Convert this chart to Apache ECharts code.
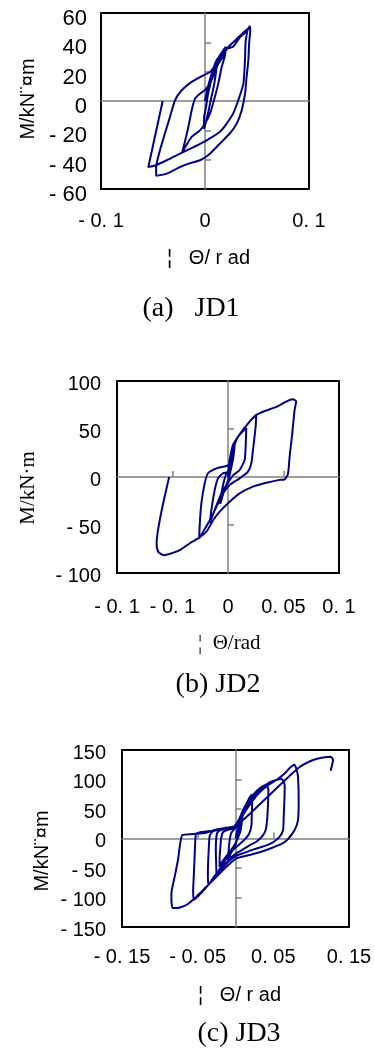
<!DOCTYPE html>
<html>
<head>
<meta charset="utf-8">
<script src="https://cdn.jsdelivr.net/npm/echarts@6/dist/echarts.min.js"></script>
<style>
  html, body { margin: 0; padding: 0; background: #fff; }
  #chart { width: 375px; height: 1052px; }
</style>
</head>
<body>
<div id="chart"></div>
<script>
// hysteresis curves, [rotation (rad), moment (kN·m)] in drawing order
const jd1Curve = [
  [0, 0], [0.003, 10], [0.007, 20], [0.010, 26], [0.012, 29],
  [0.011, 22], [0.009, 12], [0.006, 2], [0.003, -8], [0.001, -14], [-0.001, -19],
  [-0.001, -12], [0.001, -4], [0.003, 5], [0.006, 14], [0.009, 22], [0.012, 28], [0.015, 32], [0.018, 35], [0.020, 37],
  [0.0192, 31], [0.016, 23], [0.0128, 12], [0.0096, 3], [0.0048, -8.6], [0, -15.4], [-0.0048, -20], [-0.0128, -24.5], [-0.019, -31.4], [-0.022, -35.5],
  [-0.019, -26.8], [-0.016, -17.7], [-0.0128, -6.3], [-0.0096, 1.6], [-0.0048, 5], [0, 7.5], [0.0048, 11.9], [0.0096, 19.8], [0.0128, 25.5], [0.0176, 30.5], [0.021, 35.5], [0.027, 37], [0.0337, 43.6], [0.040, 47.5], [0.043, 51],
  [0.0435, 48], [0.0425, 40], [0.0417, 27.8], [0.040, 16.4], [0.0385, 5], [0.0353, -6.3], [0.0305, -15.4], [0.024, -22], [0.0144, -29], [0.0048, -35.9], [-0.0048, -40.4], [-0.015, -42.5], [-0.024, -45], [-0.0368, -49.5], [-0.047, -51],
  [-0.047, -45], [-0.0433, -33.6], [-0.0385, -22], [-0.0337, -10.9], [-0.0288, 0.5], [-0.0224, 7.3], [-0.0128, 13], [-0.0016, 17.5], [0.005, 20], [0.0112, 25.5], [0.016, 31], [0.0208, 35.7], [0.030, 42], [0.036, 46], [0.041, 49],
  [0.039, 40], [0.0385, 29], [0.0369, 11.8], [0.032, 0.5], [0.027, -8.6], [0.0208, -15.4], [0.0144, -21], [0.0016, -26.8], [-0.011, -31.4], [-0.024, -35.9], [-0.0368, -40.4], [-0.048, -44], [-0.0545, -45],
  [-0.0407, 0]
];

const jd2Curve = [
  [0, 0], [0.002, 12], [0.004, 25], [0.006, 33],
  [0.005, 22], [0.003, 10], [0.001, 0], [-0.002, -10], [-0.005, -20], [-0.007, -28],
  [-0.006, -18], [-0.004, -6], [-0.002, 2], [0, 6], [0.002, 15], [0.004, 28], [0.008, 40], [0.012, 46], [0.0165, 51],
  [0.016, 35], [0.015, 17.7], [0.0105, 7.3], [0.0048, 2], [0, -6], [-0.006, -17], [-0.012, -34.4], [-0.0164, -48],
  [-0.015, -34.4], [-0.012, -13.6], [-0.009, -1.4], [-0.0045, 3.9], [0, 5.5], [0.0015, 17.7], [0.0045, 33.4], [0.009, 42], [0.0135, 49], [0.0195, 57.7], [0.0255, 64.7],
  [0.0249, 52.5], [0.0225, 28], [0.021, 14.3], [0.018, 5.5], [0.0105, -1.4], [0.0015, -8.3], [-0.0044, -17], [-0.0104, -31], [-0.0164, -45], [-0.0224, -57], [-0.026, -64],
  [-0.0254, -48], [-0.024, -27.5], [-0.021, -6.6], [-0.018, 3.9], [-0.0104, 9], [-0.0015, 11.5], [0.0015, 14], [0.0045, 28], [0.0075, 38.6], [0.0135, 49], [0.0195, 57.7], [0.0255, 64.7], [0.0315, 68], [0.0435, 73], [0.0525, 78.6], [0.0585, 81],
  [0.0614, 78.6], [0.060, 70], [0.0579, 45.6], [0.0555, 21], [0.054, 3], [0.051, -2.4], [0.0465, -3], [0.0345, -6], [0.0225, -10], [0.0105, -17], [0.0015, -25.7], [-0.0075, -36], [-0.0134, -45], [-0.0194, -57], [-0.027, -64], [-0.0344, -69], [-0.043, -76], [-0.052, -80], [-0.058, -81.4], [-0.0628, -78], [-0.0643, -69],
  [-0.053, 0]
];

const jd3Curve = [
  [0, 0], [0.003, 18], [0.006, 35],
  [0.005, 20], [0.003, 5], [0, -10], [-0.005, -22], [-0.010, -36],
  [-0.009, -20], [-0.008, -5], [-0.006, 8], [-0.003, 14], [0, 18], [0.004, 30], [0.008, 42], [0.010, 48],
  [0.009, 35], [0.007, 15], [0.004, 3], [0, -8], [-0.005, -18], [-0.012, -30], [-0.018, -40], [-0.021, -48],
  [-0.021, -35], [-0.020, -15], [-0.019, 0], [-0.017, 10], [-0.012, 14], [-0.005, 16], [0.001, 20], [0.006, 35], [0.011, 50], [0.016, 63], [0.021, 74],
  [0.022, 62], [0.0215, 40], [0.021, 22], [0.018, 8], [0.012, -2], [0.005, -10], [-0.002, -18], [-0.010, -30], [-0.017, -44], [-0.022, -54], [-0.025, -62],
  [-0.0255, -45], [-0.026, -20], [-0.0255, 0], [-0.024, 10], [-0.018, 15], [-0.010, 17], [-0.002, 19], [0.004, 30], [0.010, 48], [0.016, 62], [0.024, 75], [0.032, 85], [0.041, 91],
  [0.0435, 82], [0.043, 60], [0.042, 35], [0.040, 15], [0.036, 5], [0.028, -5], [0.018, -12], [0.008, -20], [0, -26], [-0.008, -35], [-0.018, -50], [-0.028, -64], [-0.036, -79],
  [-0.0365, -60], [-0.036, -35], [-0.035, -10], [-0.034, 5], [-0.030, 12], [-0.020, 15], [-0.010, 17], [-0.002, 20], [0.006, 35], [0.015, 55], [0.025, 72], [0.035, 85], [0.045, 95], [0.052, 98.5], [0.061, 101],
  [0.065, 90], [0.065, 82], [0.0637, 37], [0.0628, 14], [0.0584, 3], [0.050, -6], [0.040, -12], [0.025, -18], [0.010, -25], [0, -30], [-0.010, -40], [-0.022, -57], [-0.035, -77], [-0.045, -92], [-0.055, -104],
  [-0.056, -90], [-0.055, -60], [-0.054, -30], [-0.053, 0], [-0.052, 8], [-0.045, 11], [-0.030, 13], [-0.015, 16], [-0.003, 19], [0.005, 30], [0.015, 50], [0.025, 68], [0.035, 82], [0.045, 92], [0.055, 100], [0.065, 110], [0.072, 120], [0.078, 125],
  [0.081, 115], [0.0826, 105], [0.0835, 65], [0.0826, 31], [0.0782, 14.4], [0.070, 0], [0.0628, -8], [0.0408, -19.5], [0.0188, -28], [0.0012, -33.6], [-0.012, -48], [-0.0252, -65], [-0.0385, -81.7], [-0.0517, -98.6], [-0.065, -112.7], [-0.078, -118], [-0.083, -118],
  [-0.0847, -105], [-0.0847, -93], [-0.0804, -65], [-0.076, -36], [-0.0737, -14], [-0.0702, 6], [-0.056, 7.6], [-0.0385, 9.9], [-0.0252, 15.5], [-0.0077, 19], [0.003, 23],
  [0.0826, 119], [0.1025, 133], [0.118, 137.6], [0.1258, 138.7], [0.129, 133], [0.1276, 124.6], [0.1258, 115]
];

// tick labels, from min to max
const xTicksA = ['- 0. 1', '0', '0. 1'];
const yTicksA = ['- 60', '- 40', '- 20', '0', '20', '40', '60'];
const xTicksB = ['- 0. 1', '- 0. 1', '0', '0. 05', '0. 1'];
const yTicksB = ['- 100', '- 50', '0', '50', '100'];
const xTicksC = ['- 0. 15', '- 0. 05', '0. 05', '0. 15'];
const yTicksC = ['- 150', '- 100', '- 50', '0', '50', '100', '150'];

// small ticks on the zero lines
const zeroTicksXA = [];
const zeroTicksYA = [-40, -20, 20, 40];
const zeroTicksXB = [-0.05, 0.05];
const zeroTicksYB = [-50, 50];
const zeroTicksXC = [-0.05, 0.05];
const zeroTicksYC = [-100, -50, 50, 100];

const LINE_COLOR = '#00008b';
const ZERO_COLOR = '#808080';
const SANS = '"Liberation Sans", Arial, sans-serif';
const SERIF = '"Liberation Serif", "Times New Roman", serif';

const panels = [
  {
    curve: jd1Curve, rect: {left: 101, top: 13, width: 208, height: 176},
    x: [-0.1, 0.1, 0.1], y: [-60, 60, 20],
    xTicks: xTicksA, yTicks: yTicksA, zx: zeroTicksXA, zy: zeroTicksYA,
    xMargin: 22, yMargin: 14, yShift: 6, yFont: 22
  },
  {
    curve: jd2Curve, rect: {left: 117, top: 381, width: 222, height: 192},
    x: [-0.1, 0.1, 0.05], y: [-100, 100, 50],
    xTicks: xTicksB, yTicks: yTicksB, zx: zeroTicksXB, zy: zeroTicksYB,
    xMargin: 24, yMargin: 16, yShift: 3, yFont: 20
  },
  {
    curve: jd3Curve, rect: {left: 122, top: 750, width: 227, height: 177},
    x: [-0.15, 0.15, 0.1], y: [-150, 150, 50],
    xTicks: xTicksC, yTicks: yTicksC, zx: zeroTicksXC, zy: zeroTicksYC,
    xMargin: 20, yMargin: 16, yShift: 3, yFont: 20
  }
];

let grids = [], xAxes = [], yAxes = [], series = [];

panels.forEach(function (p, i) {
  grids.push(Object.assign({
    show: true, borderColor: '#000', borderWidth: 2,
    backgroundColor: 'transparent', outerBoundsMode: 'none', containLabel: false
  }, p.rect));

  // axis carrying the labels, sits on the box edge
  xAxes.push({
    type: 'value', gridIndex: i, position: 'bottom',
    min: p.x[0], max: p.x[1], interval: p.x[2],
    axisLine: {show: false, onZero: false}, axisTick: {show: false}, splitLine: {show: false},
    axisLabel: {
      color: '#000', fontSize: 20, fontFamily: SANS, margin: p.xMargin,
      showMinLabel: true, showMaxLabel: true,
      formatter: function (v, k) { return p.xTicks[k]; }
    }
  });
  // zero line with its small ticks
  xAxes.push({
    type: 'value', gridIndex: i, position: 'bottom',
    min: p.x[0], max: p.x[1],
    axisLine: {show: true, onZero: true, onZeroAxisIndex: 2 * i, lineStyle: {color: ZERO_COLOR, width: 1.5}},
    axisTick: {show: p.zx.length > 0, inside: true, length: 6, customValues: p.zx, lineStyle: {color: ZERO_COLOR, width: 1.5}},
    axisLabel: {show: false}, splitLine: {show: false}
  });

  // labels sit a little below their ticks in the original
  yAxes.push({
    type: 'value', gridIndex: i, position: 'left',
    min: p.y[0], max: p.y[1], interval: p.y[2],
    axisLine: {show: false, onZero: false}, axisTick: {show: false}, splitLine: {show: false},
    axisLabel: {
      color: '#000', fontSize: p.yFont, fontFamily: SANS, margin: p.yMargin,
      verticalAlign: 'top', lineHeight: p.yShift * 2,
      showMinLabel: true, showMaxLabel: true,
      formatter: function (v, k) { return p.yTicks[k]; }
    }
  });
  yAxes.push({
    type: 'value', gridIndex: i, position: 'left',
    min: p.y[0], max: p.y[1],
    axisLine: {show: true, onZero: true, onZeroAxisIndex: 2 * i, lineStyle: {color: ZERO_COLOR, width: 1.5}},
    axisTick: {show: true, inside: true, length: 6, customValues: p.zy, lineStyle: {color: ZERO_COLOR, width: 1.5}},
    axisLabel: {show: false}, splitLine: {show: false}
  });

  series.push({
    type: 'line', xAxisIndex: 2 * i, yAxisIndex: 2 * i,
    data: p.curve, symbol: 'none', smooth: 0.2,
    lineStyle: {color: LINE_COLOR, width: 2}
  });
});

function label(text, x, y, font, size, rotate, align) {
  return {
    type: 'text', x: x, y: y, rotation: rotate || 0, z: 10,
    style: {
      text: text, fill: '#000', fontFamily: font, fontSize: size,
      align: align || 'center', verticalAlign: 'middle'
    }
  };
}

let chart = echarts.init(document.getElementById('chart'), null, {renderer: 'canvas'});
chart.setOption({
  animation: false,
  backgroundColor: '#fff',
  grid: grids,
  xAxis: xAxes,
  yAxis: yAxes,
  series: series,
  graphic: [
    label('M/kN¨¤m', 28, 99, SANS, 20, Math.PI / 2),
    label('¦   Θ/ r ad', 167, 258, SANS, 20, 0, 'left'),
    label('(a)   JD1', 191, 309, SERIF, 28),

    label('M/kN·m', 28, 488, SERIF, 21, Math.PI / 2),
    label('¦  Θ/rad', 198, 643, SERIF, 21, 0, 'left'),
    label('(b) JD2', 218, 685, SERIF, 28),

    label('M/kN¨¤m', 42, 851, SANS, 20, Math.PI / 2),
    label('¦   Θ/ r ad', 198, 995, SANS, 20, 0, 'left'),
    label('(c) JD3', 239, 1034, SERIF, 28)
  ]
});
</script>
</body>
</html>
